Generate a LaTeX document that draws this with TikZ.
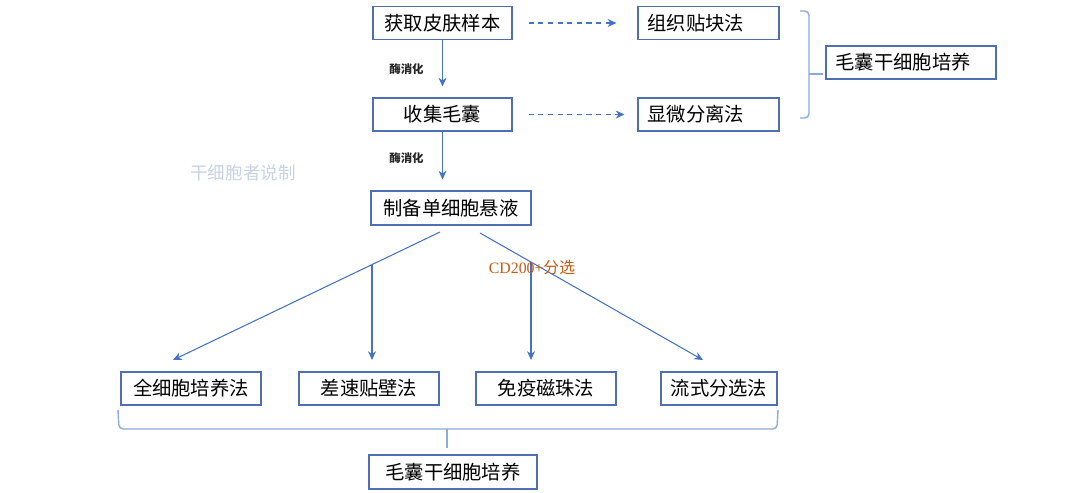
\documentclass[tikz,border=0pt]{standalone}
\usepackage{fontspec}
\setmainfont{Liberation Serif}
\newfontfamily\cjk{Noto Sans CJK SC}
\usetikzlibrary{arrows.meta,calc}

\definecolor{boxblue}{HTML}{4F6FB3}
\definecolor{arrblue}{HTML}{4472C4}
\definecolor{bracegray}{HTML}{8EA9DB}
\definecolor{cdorange}{HTML}{C55A11}
\definecolor{markgray}{HTML}{C8D2E2}

\tikzset{
	box/.style={draw=boxblue,line width=0.6pt,minimum height=0.66cm,inner sep=2pt,font=\cjk\fontsize{11}{13}\selectfont},
	lbox/.style={box,inner xsep=0.19cm,align=left},
	arr/.style={arrblue,line width=0.6pt,-{Stealth[length=5pt,width=4.5pt]}},
	darr/.style={arr,dash pattern=on 3pt off 2.5pt},
	lab/.style={text=black!85,font=\cjk\bfseries\fontsize{6.5}{8}\selectfont},
	brc/.style={bracegray,line width=0.8pt,rounded corners=2.5pt}
}

\begin{document}
\begin{tikzpicture}[x=0.02cm,y=-0.02cm]
		\useasboundingbox (0,0) rectangle (1080,493);
		% upper part
		\node[box,minimum width=2.78cm] (skin) at (442.5,23) {获取皮肤样本};
		\node[box,minimum width=2.78cm] (foll) at (442.5,114.5) {收集毛囊};
		\node[lbox,text width=2.44cm] (tissue) at (708.5,23) {组织贴块法};
		\node[lbox,text width=2.44cm] (micro) at (708.5,114.5) {显微分离法};
		\node[lbox,text width=3.02cm] (cult1) at (911,62.5) {毛囊干细胞培养};
		\node[box,minimum width=3.2cm,minimum height=0.68cm] (cell) at (451,208) {制备单细胞悬液};
		\draw[arr,shorten >=0.22cm] (skin.south) -- (foll.north) node[lab,midway,left=0.25cm]{酶消化};
		\draw[arr,shorten >=0.22cm] (foll.south) -- (foll.south |- cell.north) node[lab,pos=0.45,left=0.25cm]{酶消化};
		\draw[darr] ([xshift=0.32cm]skin.east) -- ([xshift=-0.42cm]tissue.west);
		\draw[darr] ([xshift=0.32cm]foll.east) -- ([xshift=-0.26cm]micro.west);
		% right brace
		\draw[brc] (800,11) -- (809,11) -- (809,118) -- (800,118);
		\draw[brc] (809,74) -- (823,74);
		\node[font=\cjk\fontsize{10}{12}\selectfont,text=markgray] (mark) at (243,173) {干细胞者说制};
		% lower part
		\node[box,minimum width=2.8cm] (whole) at (191,388.5) {全细胞培养法};
		\node[box,minimum width=2.8cm] (diff) at (369,388.5) {差速贴壁法};
		\node[box,minimum width=2.8cm] (immu) at (546,388.5) {免疫磁珠法};
		\node[box,minimum width=2.32cm] (flow) at (719,388.5) {流式分选法};
		\node[box,minimum width=3.36cm,minimum height=0.68cm] (cult2) at (453,472) {毛囊干细胞培养};
		\coordinate (s1) at (440,232);
		\coordinate (s2) at (480,233);
		\coordinate (e1) at (173,360);
		\coordinate (e2) at (703,360);
		\coordinate (v1) at ($(s1)!0.2547!(e1)$);
		\coordinate (v2) at ($(s2)!0.2287!(e2)$);
		\draw[arr] (s1) -- (e1);
		\draw[arr] (s2) -- (e2);
		\draw[arr] (v1) -- (v1 |- e1);
		\draw[arr] (v2) -- (v2 |- e2);
		\node[text=cdorange,font=\fontsize{9}{11}\selectfont] (cd) at (532,268) {CD200+{\cjk 分选}};
		% bottom brace
		\draw[brc] (118,410) -- (119,429) -- (777,429) -- (778,410);
		\draw[brc] (447,429) -- (447,448);
\end{tikzpicture}
\end{document}
